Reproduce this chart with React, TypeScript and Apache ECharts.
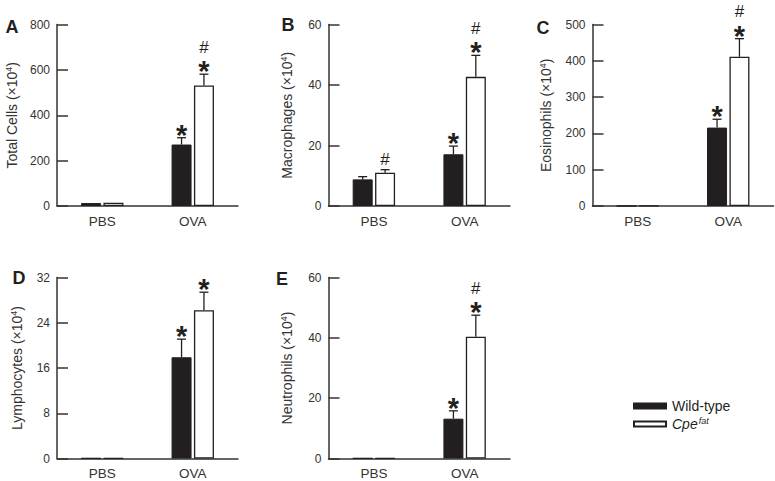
import React, { useEffect, useRef } from "react";
import * as echarts from "echarts";

const categories = ["PBS", "OVA"];

// Panel A: Total cells
const totalWT = [13, 271];
const totalWTErr = [0, 30];
const totalCpe = [14, 531];
const totalCpeErr = [0, 50];
const totalWTSig = ["", "*"];
const totalCpeSig = ["", "*#"];

// Panel B: Macrophages
const macWT = [8.8, 17.1];
const macWTErr = [0.9, 2.7];
const macCpe = [11.0, 42.7];
const macCpeErr = [1.0, 7.1];
const macWTSig = ["", "*"];
const macCpeSig = ["#", "*#"];

// Panel C: Eosinophils
const eosWT = [0.3, 216];
const eosWTErr = [0, 23];
const eosCpe = [0.3, 411];
const eosCpeErr = [0, 50];
const eosWTSig = ["", "*"];
const eosCpeSig = ["", "*#"];

// Panel D: Lymphocytes
const lymWT = [0.05, 17.9];
const lymWTErr = [0, 3.2];
const lymCpe = [0.05, 26.2];
const lymCpeErr = [0, 3.2];
const lymWTSig = ["", "*"];
const lymCpeSig = ["", "*"];

// Panel E: Neutrophils
const neuWT = [0.1, 13.2];
const neuWTErr = [0, 2.6];
const neuCpe = [0.1, 40.4];
const neuCpeErr = [0, 7.1];
const neuWTSig = ["", "*"];
const neuCpeSig = ["", "*#"];

const panelLetters = ["A", "B", "C", "D", "E"];
const yTitleNames = ["Total Cells", "Macrophages", "Eosinophils", "Lymphocytes", "Neutrophils"];
const yTitleUnit = "(×10";
const yTitleExp = "4";
const yMax = [800, 60, 500, 32, 60];
const yInterval = [200, 20, 100, 8, 20];

const panelData = [
  { wt: totalWT, wtErr: totalWTErr, cpe: totalCpe, cpeErr: totalCpeErr, wtSig: totalWTSig, cpeSig: totalCpeSig },
  { wt: macWT, wtErr: macWTErr, cpe: macCpe, cpeErr: macCpeErr, wtSig: macWTSig, cpeSig: macCpeSig },
  { wt: eosWT, wtErr: eosWTErr, cpe: eosCpe, cpeErr: eosCpeErr, wtSig: eosWTSig, cpeSig: eosCpeSig },
  { wt: lymWT, wtErr: lymWTErr, cpe: lymCpe, cpeErr: lymCpeErr, wtSig: lymWTSig, cpeSig: lymCpeSig },
  { wt: neuWT, wtErr: neuWTErr, cpe: neuCpe, cpeErr: neuCpeErr, wtSig: neuWTSig, cpeSig: neuCpeSig },
];

// layout (pixels)
const grids = [
  { left: 57, top: 24.5, width: 181, height: 181.5 },
  { left: 328.5, top: 24.5, width: 181.5, height: 181.5 },
  { left: 592.5, top: 24.5, width: 181, height: 181.5 },
  { left: 57, top: 277.5, width: 181, height: 181 },
  { left: 328.5, top: 277.5, width: 181.5, height: 181 },
];
const nameGaps = [37, 33.5, 38.5, 32, 33.5];
const letterPos = [
  [12, 27],
  [288, 25],
  [543, 27.5],
  [19, 277.5],
  [282, 279],
];

const FONT = "Liberation Sans, Arial, Helvetica, sans-serif";
const INK = "#231f20";
const AXIS = "#333333";
const BAR_W = 20;
const HALF_OFF = 11.2;

export default function App() {
  const ref = useRef<HTMLDivElement>(null);

  useEffect(() => {
    if (!ref.current) return;
    const chart = echarts.init(ref.current, undefined, { renderer: "svg" });

    const xAxis: any[] = [];
    const yAxis: any[] = [];
    const series: any[] = [];
    const graphic: any[] = [];

    panelData.forEach((p, i) => {
      xAxis.push({
        type: "category",
        gridIndex: i,
        data: categories,
        axisTick: { show: false },
        axisLine: { lineStyle: { color: AXIS, width: 1.5 } },
        axisLabel: { color: AXIS, fontSize: 13.5, fontFamily: FONT, margin: 8 },
      });
      yAxis.push({
        type: "value",
        gridIndex: i,
        min: 0,
        max: yMax[i],
        interval: yInterval[i],
        splitLine: { show: false },
        axisLine: { show: true, lineStyle: { color: AXIS, width: 1.5 } },
        axisTick: { show: true, inside: true, length: 11, lineStyle: { color: AXIS, width: 1.5 } },
        axisLabel: { color: AXIS, fontSize: 12, fontFamily: FONT, margin: 7 },
        name: `{a|${yTitleNames[i]} ${yTitleUnit}}{s|${yTitleExp}}{a|)}`,
        nameLocation: "middle",
        nameGap: nameGaps[i],
        nameTextStyle: {
          color: AXIS,
          fontSize: 14,
          fontFamily: FONT,
          rich: {
            a: { fontSize: 14, fontFamily: FONT, color: AXIS, lineHeight: 16 },
            s: { fontSize: 9, fontFamily: FONT, color: AXIS, lineHeight: 16, verticalAlign: "top", padding: [0, 0, 5, 0] },
          },
        },
      });

      series.push({
        name: "Wild-type",
        type: "bar",
        xAxisIndex: i,
        yAxisIndex: i,
        data: p.wt,
        barWidth: BAR_W,
        barGap: "12%",
        itemStyle: { color: INK, borderColor: INK, borderWidth: 1 },
      });
      series.push({
        name: "Cpe",
        type: "bar",
        xAxisIndex: i,
        yAxisIndex: i,
        data: p.cpe,
        barWidth: BAR_W,
        barGap: "12%",
        itemStyle: { color: "#ffffff", borderColor: INK, borderWidth: 1.3 },
      });

      const rows: number[][] = [];
      const sigs: string[] = [];
      categories.forEach((_, c) => {
        rows.push([c, p.wt[c], p.wtErr[c], -1]);
        sigs.push(p.wtSig[c]);
        rows.push([c, p.cpe[c], p.cpeErr[c], 1]);
        sigs.push(p.cpeSig[c]);
      });

      series.push({
        type: "custom",
        xAxisIndex: i,
        yAxisIndex: i,
        data: rows,
        clip: false,
        z: 5,
        silent: true,
        renderItem: (params: any, api: any) => {
          const cat = api.value(0);
          const v = api.value(1);
          const e = api.value(2);
          const side = api.value(3);
          const base = api.coord([cat, v]);
          const top = api.coord([cat, v + e]);
          const x = base[0] + side * HALF_OFF;
          const children: any[] = [];
          if (e > 0) {
            children.push({
              type: "line",
              shape: { x1: x, y1: base[1], x2: x, y2: top[1] },
              style: { stroke: INK, lineWidth: 1.3 },
            });
            children.push({
              type: "line",
              shape: { x1: x - 4.5, y1: top[1], x2: x + 4.5, y2: top[1] },
              style: { stroke: INK, lineWidth: 1.3 },
            });
          }
          const sig = sigs[params.dataIndex] || "";
          const capY = top[1];
          if (sig.indexOf("*") >= 0) {
            children.push({
              type: "text",
              style: {
                text: "*",
                x: x,
                y: capY - 3,
                textAlign: "center",
                textVerticalAlign: "middle",
                font: `bold 29px ${FONT}`,
                fill: INK,
              },
            });
            if (sig.indexOf("#") >= 0) {
              children.push({
                type: "text",
                style: {
                  text: "#",
                  x: x,
                  y: capY - 27,
                  textAlign: "center",
                  textVerticalAlign: "middle",
                  font: `17px ${FONT}`,
                  fill: INK,
                },
              });
            }
          } else if (sig.indexOf("#") >= 0) {
            children.push({
              type: "text",
              style: {
                text: "#",
                x: x,
                y: capY - 10,
                textAlign: "center",
                textVerticalAlign: "middle",
                font: `17px ${FONT}`,
                fill: INK,
              },
            });
          }
          return { type: "group", children };
        },
      });

      graphic.push({
        type: "text",
        x: letterPos[i][0],
        y: letterPos[i][1],
        style: {
          text: panelLetters[i],
          font: `bold 18px ${FONT}`,
          fill: INK,
          textAlign: "center",
          textVerticalAlign: "middle",
        },
      });
    });

    chart.setOption({
      animation: false,
      backgroundColor: "#ffffff",
      grid: grids.map((g) => ({ ...g, containLabel: false })),
      xAxis,
      yAxis,
      series,
      graphic,
      legend: {
        data: ["Wild-type", "Cpe"],
        orient: "vertical",
        left: 633,
        top: 399,
        padding: 0,
        itemWidth: 32,
        itemHeight: 5,
        itemGap: 3,
        icon: "rect",
        selectedMode: false,
        formatter: (name: string) => (name === "Cpe" ? "{i|Cpe}{s|fat}" : "{n|" + name + "}"),
        textStyle: {
          color: INK,
          fontFamily: FONT,
          fontSize: 14,
          padding: [0, 0, 0, 1],
          rich: {
            n: { fontSize: 14, fontFamily: FONT, color: INK, lineHeight: 16 },
            i: { fontSize: 14, fontFamily: FONT, color: INK, fontStyle: "italic", lineHeight: 16 },
            s: {
              fontSize: 9,
              fontFamily: FONT,
              color: INK,
              fontStyle: "italic",
              verticalAlign: "top",
              lineHeight: 16,
              padding: [0, 0, 5, 1],
            },
          },
        },
      },
    });

    return () => chart.dispose();
  }, []);

  return (
    <div
      ref={ref}
      style={{ position: "absolute", left: 0, top: 0, width: 775, height: 481, background: "#fff" }}
    />
  );
}
